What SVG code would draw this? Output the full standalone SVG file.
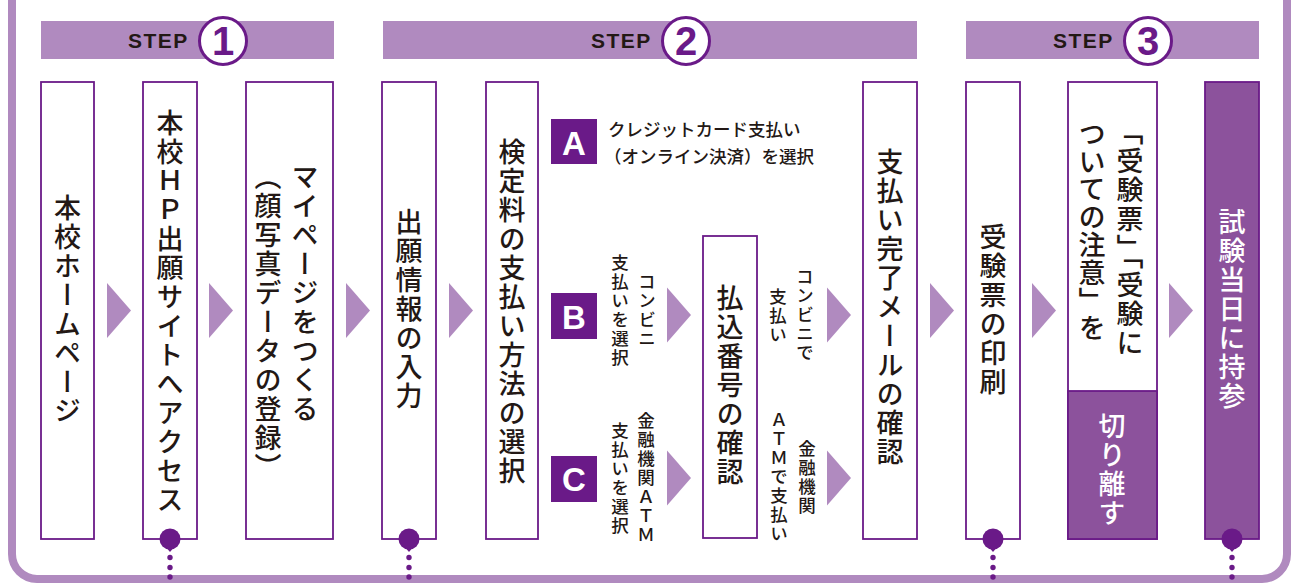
<svg xmlns="http://www.w3.org/2000/svg" width="1293" height="583" viewBox="0 0 1293 583">
<style>
.box{fill:#fff;stroke:#6a1a88;stroke-width:1.8}
.boxf{fill:#8c529c;stroke:#6a1a88;stroke-width:1.8}
.vt{font-family:"Noto Sans CJK JP","Noto Sans CJK SC",sans-serif;font-size:27px;font-weight:500;fill:#231815;writing-mode:vertical-rl;text-anchor:middle;letter-spacing:2px}
.st{text-anchor:start}
.w{fill:#fff}
.vs{font-size:17.5px;letter-spacing:1.5px}
.ht{font-family:"Noto Sans CJK JP","Noto Sans CJK SC",sans-serif;font-size:17.5px;font-weight:500;fill:#231815}
.lp{fill:#b08abf}
.step{font-family:"Liberation Sans",Arial,sans-serif;font-weight:bold;font-size:21px;fill:#231815;letter-spacing:1.5px}
.num{font-family:"Liberation Sans",Arial,sans-serif;font-weight:bold;font-size:40px;fill:#6a1a88;text-anchor:middle}
.circ{fill:#fff;stroke:#6a1a88;stroke-width:3}
.sq{fill:#6a1a88}
.sql{font-family:"Liberation Sans",Arial,sans-serif;font-weight:bold;font-size:33px;fill:#fff;text-anchor:middle}
.dot{fill:#6a1a88}
</style>
<defs>
<path id="arr" d="M0,0 L24,27.5 L0,55 Z"/>
<g id="pin"><circle cx="0" cy="539" r="10.5"/><path d="M-5,546 L5,546 L0,552 Z"/><circle cx="0" cy="557.5" r="2.7"/><circle cx="0" cy="567.5" r="2.7"/><circle cx="0" cy="577" r="2.7"/></g>
</defs>
<path d="M12,-10 V554 A25,25 0 0 0 37,579 H1262 A25,25 0 0 0 1287,554 V-10" fill="none" stroke="#b08abf" stroke-width="8"/>
<g id="step1">
<rect class="lp" x="41" y="21" width="293" height="38"/>
<text class="step" x="128" y="48">STEP</text>
<circle class="circ" cx="223" cy="41" r="23.5"/>
<text class="num" x="223" y="55">1</text>
</g>
<g id="step2">
<rect class="lp" x="383" y="21" width="534" height="38"/>
<text class="step" x="591" y="48">STEP</text>
<circle class="circ" cx="686" cy="41" r="23.5"/>
<text class="num" x="686" y="55">2</text>
</g>
<g id="step3">
<rect class="lp" x="966" y="21" width="293" height="38"/>
<text class="step" x="1053" y="48">STEP</text>
<circle class="circ" cx="1148" cy="41" r="23.5"/>
<text class="num" x="1148" y="55">3</text>
</g>
<g id="n1"><rect class="box" x="41" y="82" width="53" height="457"/><text class="vt" x="67.5" y="310">本校ホームページ</text></g>
<g id="n2"><rect class="box" x="143" y="82" width="54" height="457"/><text class="vt" x="170" y="312">本校ＨＰ出願サイトへアクセス</text></g>
<g id="n3"><rect class="box" x="246" y="82" width="87" height="457"/><text class="vt st" x="305" y="163">マイページをつくる</text><text class="vt st" x="268" y="163">（顔写真データの登録）</text></g>
<g id="n4"><rect class="box" x="382" y="82" width="54" height="457"/><text class="vt" x="409" y="310">出願情報の入力</text></g>
<g id="n5"><rect class="box" x="486" y="82" width="52" height="457"/><text class="vt" x="512" y="312">検定料の支払い方法の選択</text></g>
<g id="optA"><rect class="sq" x="551" y="119" width="46" height="45"/><text class="sql" x="574" y="155">A</text>
<text class="ht" x="608" y="136">クレジットカード支払い</text><text class="ht" x="604" y="163">（オンライン決済）を選択</text></g>
<g id="optB"><rect class="sq" x="551" y="293" width="46" height="46"/><text class="sql" x="574" y="329">B</text>
<text class="vt vs" x="647" y="311">コンビニ</text><text class="vt vs" x="620" y="311">支払いを選択</text></g>
<g id="optC"><rect class="sq" x="551" y="456" width="46" height="46"/><text class="sql" x="574" y="491">C</text>
<text class="vt vs" x="646" y="478">金融機関ＡＴＭ</text><text class="vt vs" x="620" y="479">支払いを選択</text></g>
<g id="n6"><rect class="box" x="703" y="236" width="54" height="302"/><text class="vt" x="730" y="386">払込番号の確認</text></g>
<g id="payB"><text class="vt vs" x="805" y="315">コンビニで</text><text class="vt vs" x="778" y="316">支払い</text></g>
<g id="payC"><text class="vt vs" x="807" y="478">金融機関</text><text class="vt vs" x="779" y="477">ＡＴＭで支払い</text></g>
<g id="n7"><rect class="box" x="863" y="82" width="54" height="457"/><text class="vt" x="890" y="308">支払い完了メールの確認</text></g>
<g id="n8"><rect class="box" x="966" y="82" width="54" height="457"/><text class="vt" x="993" y="310">受験票の印刷</text></g>
<g id="n9"><rect class="box" x="1068" y="82" width="89" height="457"/><rect class="boxf" x="1068" y="391" width="89" height="148"/>
<text class="vt st" x="1130" y="118">「受験票」</text><text class="vt st" x="1130" y="242">「受験に</text><text class="vt st" x="1092" y="120" style="letter-spacing:0.8px">ついての注意」を</text>
<text class="vt w" x="1112" y="470">切り離す</text></g>
<g id="n10"><rect class="boxf" x="1205" y="82" width="54" height="457"/><text class="vt w" x="1232" y="310">試験当日に持参</text></g>
<g id="connectors">
<use href="#arr" class="lp" x="107" y="283"/>
<use href="#arr" class="lp" x="209" y="283"/>
<use href="#arr" class="lp" x="346" y="283"/>
<use href="#arr" class="lp" x="449" y="283"/>
<use href="#arr" class="lp" x="667" y="287.5"/>
<use href="#arr" class="lp" x="827" y="287.5"/>
<use href="#arr" class="lp" x="667" y="450.5"/>
<use href="#arr" class="lp" x="827" y="450.5"/>
<use href="#arr" class="lp" x="930" y="283"/>
<use href="#arr" class="lp" x="1032" y="283"/>
<use href="#arr" class="lp" x="1169" y="283"/>
<use href="#pin" class="dot" x="170"/>
<use href="#pin" class="dot" x="409"/>
<use href="#pin" class="dot" x="993"/>
<use href="#pin" class="dot" x="1232"/>
</g>
</svg>
